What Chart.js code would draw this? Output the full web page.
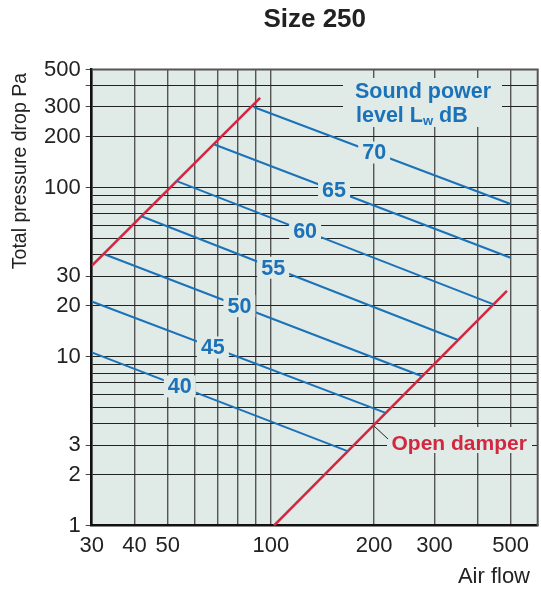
<!DOCTYPE html>
<html><head><meta charset="utf-8">
<script src="https://cdn.jsdelivr.net/npm/chart.js@4.4.1/dist/chart.umd.min.js"></script>
<style>html,body{margin:0;padding:0;background:#fff}#wrap{width:541px;height:592px}</style>
</head><body><div id="wrap"><canvas id="c" width="541" height="592"></canvas></div>
<script>
// ---- data ----
const xGridValues = [30,40,50,60,70,80,90,100,200,300,400,500];
const xTickLabels = [30,40,50,100,200,300,500];
const yGridValues = [1,2,3,4,5,6,7,8,9,10,20,30,40,50,60,70,80,90,100,200,300,400,500];
const yTickLabels = [1,2,3,10,20,30,100,200,300,500];
const yTickMarks = [1,2,3,10,20,30,100,200,300,400,500];
const levels = ['40','45','50','55','60','65','70'];
const lineStartX = [30, 30, 32.8, 41.9, 52.9, 68.4, 89];
const lineStartY = [10.6, 21.2, 40.2, 67.7, 109.7, 180, 300];
const lineEndX = [168, 216, 276, 350, 446, 500, 500];
const lineEndY = [2.75, 4.65, 7.66, 12.6, 20.4, 38.5, 80];
const labelAtX = [54.2, 67.7, 80.9, 101.5, 125.8, 152.8, 200];
const upperDamperX = [30, 93];
const upperDamperY = [34.5, 340];
const openDamperX = [102, 488];
const openDamperY = [1, 24.5];

// ---- style ----
const BLUE = '#1b72b8', RED = '#d1273f', BG = '#e0eae7', INK = '#222';
const FONT = '"Liberation Sans", Arial, Helvetica, sans-serif';

const datasets = levels.map((l, i) => ({
  label: 'Lw ' + l,
  data: [{x: lineStartX[i], y: lineStartY[i]}, {x: lineEndX[i], y: lineEndY[i]}],
  borderColor: BLUE, borderWidth: 2, showLine: true, pointRadius: 0, fill: false
}));
datasets.push({
  label: 'upper', data: upperDamperX.map((x, i) => ({x, y: upperDamperY[i]})),
  borderColor: RED, borderWidth: 2.5, showLine: true, pointRadius: 0, fill: false
});
datasets.push({
  label: 'Open damper', data: openDamperX.map((x, i) => ({x, y: openDamperY[i]})),
  borderColor: RED, borderWidth: 2.5, showLine: true, pointRadius: 0, fill: false
});

const decor = {
  id: 'decor',
  beforeDraw(chart) {
    const {ctx, chartArea: a} = chart;
    ctx.save();
    ctx.fillStyle = '#fff';
    ctx.fillRect(0, 0, chart.width, chart.height);
    ctx.fillStyle = BG;
    ctx.fillRect(a.left, a.top, a.right - a.left, a.bottom - a.top);
    ctx.restore();
  },
  afterDatasetsDraw(chart) {
    const {ctx, chartArea: a} = chart;
    const xs = chart.scales.x, ys = chart.scales.y;
    ctx.save();
    // level labels on the lines
    ctx.font = 'bold 21.5px ' + FONT;
    ctx.textAlign = 'center';
    ctx.textBaseline = 'middle';
    levels.forEach((lab, i) => {
      const lx = labelAtX[i];
      const t = (Math.log10(lx) - Math.log10(lineStartX[i])) / (Math.log10(lineEndX[i]) - Math.log10(lineStartX[i]));
      const ly = Math.pow(10, Math.log10(lineStartY[i]) + t * (Math.log10(lineEndY[i]) - Math.log10(lineStartY[i])));
      const px = xs.getPixelForValue(lx), py = ys.getPixelForValue(ly);
      const w = ctx.measureText(lab).width;
      ctx.fillStyle = BG;
      ctx.fillRect(px - w / 2 - 4, py - 11, w + 8, 22);
      ctx.fillStyle = BLUE;
      ctx.fillText(lab, px, py + 1);
    });
    // Sound power legend text
    ctx.fillStyle = BG;
    ctx.fillRect(343, 78, 159, 49);
    ctx.fillStyle = BLUE;
    ctx.textAlign = 'left';
    ctx.textBaseline = 'alphabetic';
    ctx.font = 'bold 21.5px ' + FONT;
    ctx.fillText('Sound power', 355, 97.5);
    let x = 356;
    const p1 = 'level L';
    ctx.fillText(p1, x, 121.5);
    x += ctx.measureText(p1).width;
    ctx.font = 'bold 13px ' + FONT;
    ctx.fillText('w', x, 125);
    x += ctx.measureText('w').width;
    ctx.font = 'bold 21.5px ' + FONT;
    ctx.fillText(' dB', x, 121.5);
    // Open damper label
    ctx.fillStyle = BG;
    ctx.fillRect(387, 427, 145, 26);
    ctx.strokeStyle = '#222';
    ctx.lineWidth = 1;
    ctx.beginPath();
    ctx.moveTo(374, 426);
    ctx.lineTo(388, 439);
    ctx.stroke();
    ctx.fillStyle = RED;
    ctx.font = 'bold 21px ' + FONT;
    ctx.fillText('Open damper', 391.5, 450);
    ctx.restore();
  },
  afterDraw(chart) {
    const {ctx, chartArea: a} = chart;
    ctx.save();
    // top & right frame
    ctx.strokeStyle = '#555';
    ctx.lineWidth = 2;
    ctx.beginPath();
    ctx.moveTo(a.left, a.top);
    ctx.lineTo(a.right, a.top);
    ctx.lineTo(a.right, a.bottom);
    ctx.stroke();
    // axis titles
    ctx.fillStyle = INK;
    ctx.font = '22px ' + FONT;
    ctx.textAlign = 'right';
    ctx.textBaseline = 'alphabetic';
    ctx.fillText('Air flow', 530, 583);
    ctx.translate(21, 73);
    ctx.rotate(-Math.PI / 2);
    ctx.font = '19.5px ' + FONT;
    ctx.textAlign = 'right';
    ctx.textBaseline = 'middle';
    ctx.fillText('Total pressure drop Pa', 0, 0);
    ctx.restore();
  }
};

new Chart(document.getElementById('c'), {
  type: 'scatter',
  data: {datasets},
  options: {
    responsive: false,
    animation: false,
    devicePixelRatio: 1,
    layout: {padding: {left: 0, right: 3.3, top: 0, bottom: 0}},
    plugins: {
      legend: {display: false},
      tooltip: {enabled: false},
      title: {
        display: true, text: 'Size 250', fullSize: false, color: INK,
        font: {family: FONT, size: 26, weight: 'bold'},
        padding: {top: 4, bottom: 34.3}
      }
    },
    scales: {
      x: {
        type: 'logarithmic', min: 30, max: 600,
        afterBuildTicks: s => { s.ticks = xGridValues.map(v => ({value: v})); },
        afterFit: s => { s.height = 66.3; },
        ticks: {
          autoSkip: false, maxRotation: 0, padding: 7, color: INK,
          font: {family: FONT, size: 22},
          callback: v => xTickLabels.includes(v) ? String(v) : ''
        },
        grid: {drawTicks: false, color: '#555', lineWidth: 1.4},
        border: {color: '#111', width: 2.5}
      },
      y: {
        type: 'logarithmic', min: 1, max: 500,
        afterBuildTicks: s => { s.ticks = yGridValues.map(v => ({value: v})); },
        afterFit: s => { s.width = 91.7; },
        ticks: {
          autoSkip: false, padding: 5, color: INK,
          font: {family: FONT, size: 22},
          callback: v => yTickLabels.includes(v) ? String(v) : ''
        },
        grid: {
          color: '#222', lineWidth: 1, tickLength: 6,
          tickColor: c => (c.tick && yTickMarks.includes(c.tick.value)) ? '#444' : 'rgba(0,0,0,0)'
        },
        border: {color: '#111', width: 2.5}
      }
    }
  },
  plugins: [decor]
});
</script>
</body></html>
